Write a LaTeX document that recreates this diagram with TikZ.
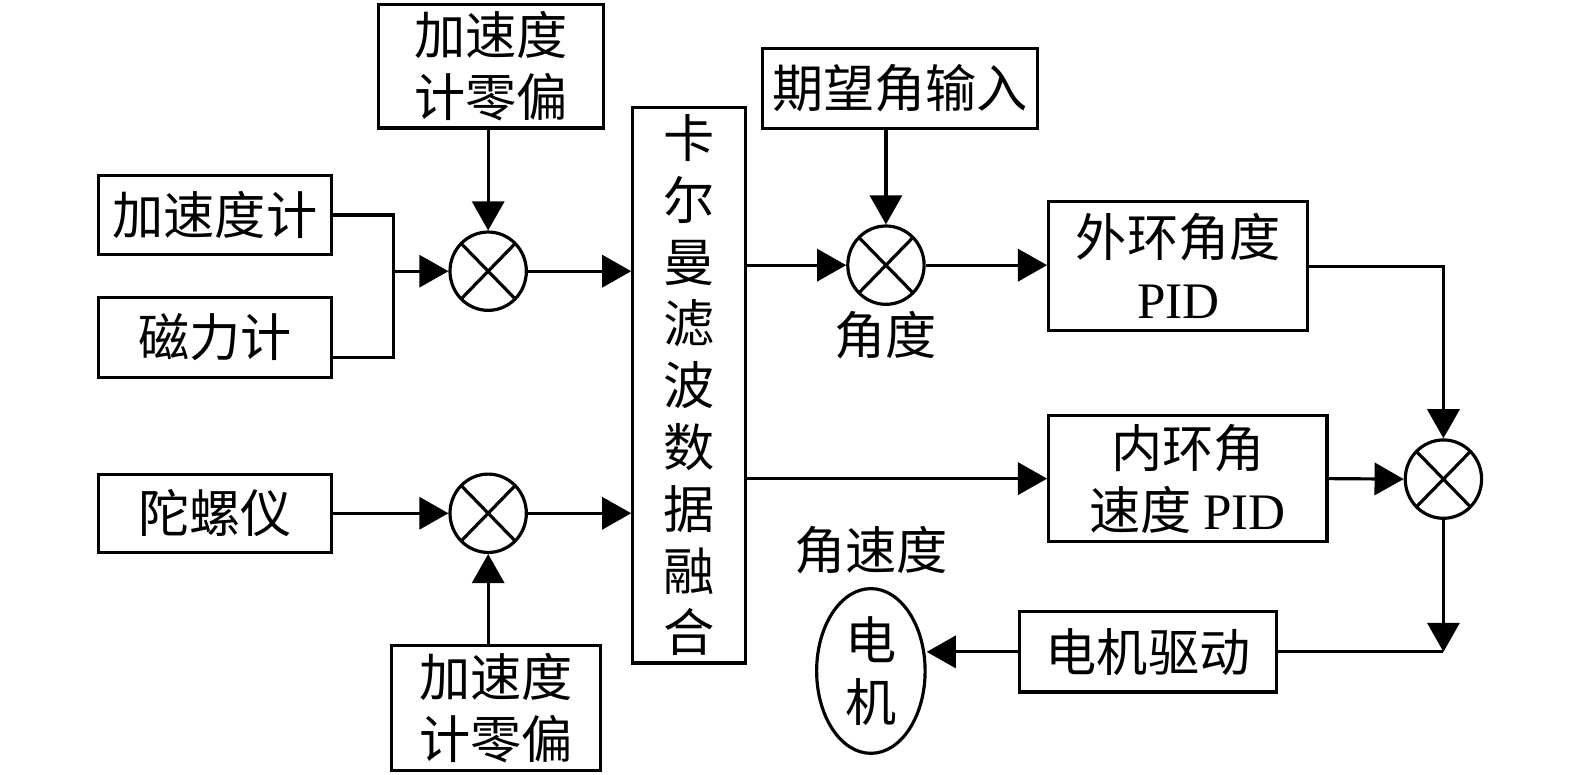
\documentclass[tikz,border=0pt]{standalone}
\usepackage{fontspec}
\setmainfont{Liberation Serif}
\newfontfamily\cjk{Noto Sans CJK SC}
\usetikzlibrary{arrows.meta, positioning, shapes.geometric, calc}

\begin{document}
\begin{tikzpicture}[
        block/.style = {rectangle, draw, line width=0.9pt, inner sep=0pt, align=center, font=\cjk\fontsize{14.5}{17.5}\selectfont},
        sumnode/.style = {ellipse, draw, line width=0.9pt, inner sep=0pt, minimum width=0.76cm, minimum height=0.78cm,
            path picture={\draw[line width=0.9pt] (path picture bounding box.north west) -- (path picture bounding box.south east)
                (path picture bounding box.north east) -- (path picture bounding box.south west);}},
        arrow/.style = {draw, -{Triangle[length=2.9mm, width=3.2mm]}, line width=0.9pt},
        line/.style = {draw, line width=0.9pt},
        tag/.style = {inner sep=0pt, font=\cjk\fontsize{14.5}{17.5}\selectfont}
    ]
    \useasboundingbox (0,0) rectangle (15.68,7.71);

    % sensors and bias
    \node [block, minimum width=2.32cm, minimum height=0.78cm] (acc) at (2.14,5.57) {加速度计};
    \node [block, minimum width=2.32cm, minimum height=0.79cm] (mag) at (2.14,4.35) {磁力计};
    \node [block, minimum width=2.32cm, minimum height=0.78cm] (gyro) at (2.14,2.60) {陀螺仪};
    \node [sumnode] (sum1) at (4.86,5.01) {};
    \node [sumnode] (sum2) at (4.86,2.60) {};
    \node [block, minimum width=2.24cm, minimum height=1.23cm] (bias1) at (4.89,7.05) {加速度\\计零偏};
    \node [block, minimum width=2.08cm, minimum height=1.24cm] (bias2) at (4.94,0.66) {加速度\\计零偏};
    \coordinate [left=0.55cm of sum1.west] (jn);

    % fusion
    \node [block, minimum width=1.12cm, minimum height=5.53cm] (kalman) at (6.86,3.875) {卡\\尔\\曼\\滤\\波\\数\\据\\融\\合};

    % control loops
    \node [block, minimum width=2.73cm, minimum height=0.80cm] (goal) at (8.96,6.83) {期望角输入};
    \node [sumnode] (sum3) at (8.82,5.07) {};
    \node [tag, below=0.05cm of sum3] (anglbl) {角度};
    \node [block, minimum width=2.58cm, minimum height=1.28cm] (outer) at (11.73,5.06) {外环角度\\{\rmfamily PID}};
    \node [block, minimum width=2.77cm, minimum height=1.25cm] (inner) at (11.825,2.945) {内环角\\速度 {\rmfamily PID}};
    \node [sumnode] (sum4) at (14.37,2.94) {};
    \node [block, minimum width=2.56cm, minimum height=0.80cm] (drive) at (11.43,1.22) {电机驱动};
    \coordinate (bend) at (sum4 |- drive);
    \node [ellipse, draw, line width=0.9pt, inner sep=0pt, minimum width=1.08cm, minimum height=1.64cm, align=center,
        font=\cjk\fontsize{14.5}{17.5}\selectfont] (motor) at (8.67,1.03) {电\\机};
    \node [tag, above=0.12cm of motor] (ratelbl) {角速度};

    \draw [line] (acc.east) -| (jn);
    \draw [line] ([yshift=-0.2cm]mag.east) -| (jn);
    \draw [arrow] (jn) -- (sum1);
    \draw [arrow] (bias1.south -| sum1) -- (sum1.north);
    \draw [arrow] (sum1) -- (sum1 -| kalman.west);
    \draw [arrow] (gyro) -- (sum2);
    \draw [arrow] (bias2.north -| sum2) -- (sum2.south);
    \draw [arrow] (sum2) -- (sum2 -| kalman.west);
    \draw [arrow] (sum3 -| kalman.east) -- (sum3);
    \draw [arrow] (goal.south -| sum3) -- (sum3.north);
    \draw [arrow] (sum3) -- (sum3 -| outer.west);
    \draw [arrow] (outer.east) -| (sum4.north);
    \draw [arrow] (inner.west -| kalman.east) -- (inner.west);
    \draw [arrow] (inner.east) -- (sum4.west);
    \draw [arrow] (sum4) -- (bend);
    \draw [line] (drive.east) -- (bend);
    \draw [arrow] (drive.west) -- (drive.west -| motor.east);
\end{tikzpicture}
\end{document}
